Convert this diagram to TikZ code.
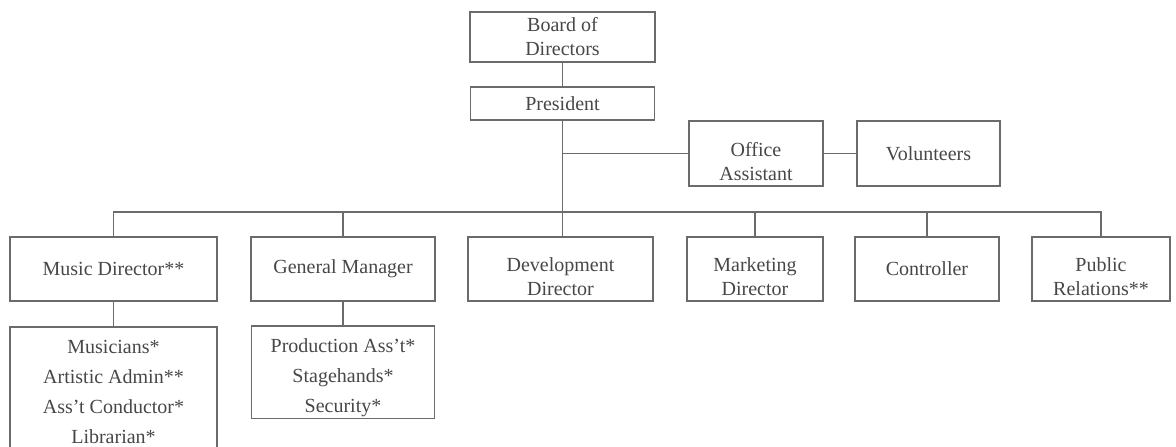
\documentclass[tikz,border=0pt]{standalone}
\usepackage{fontspec}
\setmainfont{Liberation Serif}
\usetikzlibrary{positioning}
\colorlet{colorLine}{black!58}
\colorlet{colorText}{black!72}
\tikzset{box/.style={draw=colorLine, line width=1.4pt, text=colorText, align=center, inner sep=2pt, outer sep=0pt, minimum height=64pt, font=\fontsize{20}{24}\selectfont}}
\tikzset{listbox/.style={box, font=\fontsize{20}{30}\selectfont}}
\tikzset{lowtext/.style={text height=#1}, lowtext/.default=54pt}

\begin{document}
\begin{tikzpicture}[x=1pt, y=1pt, line/.style={draw=colorLine, line width=1.4pt}]
\useasboundingbox (0,0) rectangle (1176,-447);
\clip (0,0) rectangle (1176,-447);
% top of the chart
\node[box, minimum width=185pt, minimum height=50pt] (board) at (562.5,-37) {Board of\\Directors};
\node[box, minimum width=184pt, minimum height=33pt, below=25pt of board] (pres) {President};
\node[box, lowtext, minimum width=134pt, minimum height=65pt] (office) at (756,-153.5) {Office\\Assistant};
\node[box, minimum width=143pt, minimum height=65pt, right=34pt of office] (vol) {Volunteers};
% second row
\node[box, minimum width=207pt] (music) at (113.5,-269) {Music Director**};
\node[box, minimum width=184pt, right=34pt of music] (gm) {General Manager};
\node[box, lowtext, minimum width=185pt, right=33pt of gm] (dev) {Development\\Director};
\node[box, lowtext, minimum width=136pt, right=34pt of dev] (mkt) {Marketing\\Director};
\node[box, minimum width=144pt, right=32pt of mkt] (ctrl) {Controller};
\node[box, lowtext, minimum width=138pt, right=33pt of ctrl] (pr) {Public\\Relations**};
% staff lists
\node[listbox, minimum width=207pt, minimum height=129pt, below=26pt of music] (mus) {Musicians*\\Artistic Admin**\\Ass't Conductor*\\Librarian*};
\node[listbox, lowtext=84pt, minimum width=183pt, minimum height=92pt, below=25pt of gm] (prod) {Production Ass't*\\Stagehands*\\Security*};

\draw[line] (board) -- (pres);
\draw[line] (pres) -- (pres |- dev.north);
\draw[line] (pres |- office) -- (office);
\draw[line] (office) -- (vol);
\draw[line] (music.north) -- ++(0,25) -| (pr.north);
\foreach \n in {gm, mkt, ctrl} \draw[line] (\n.north) -- ++(0,25);
\draw[line] (music) -- (mus);
\draw[line] (gm) -- (prod);
\end{tikzpicture}
\end{document}
